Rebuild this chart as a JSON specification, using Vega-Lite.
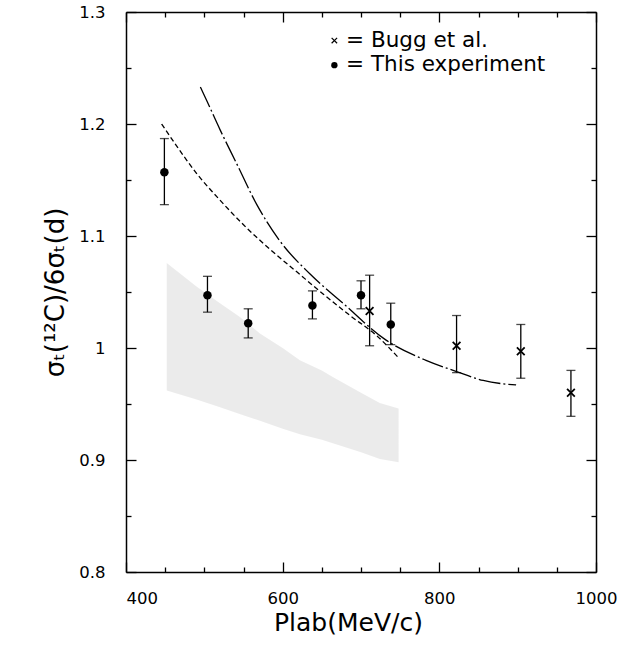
{
  "$schema": "https://vega.github.io/schema/vega-lite/v6.json",
  "width": 470,
  "height": 560,
  "autosize": {"type": "none"},
  "padding": {"left": 126, "top": 12, "right": 30, "bottom": 74},
  "background": "white",
  "datasets": {
    "band": [
      {"p": 452, "hi": 1.076, "lo": 0.962},
      {"p": 490, "hi": 1.055, "lo": 0.954},
      {"p": 520, "hi": 1.040, "lo": 0.947},
      {"p": 545, "hi": 1.028, "lo": 0.941},
      {"p": 571, "hi": 1.013, "lo": 0.935},
      {"p": 600, "hi": 1.000, "lo": 0.928},
      {"p": 622, "hi": 0.989, "lo": 0.923},
      {"p": 650, "hi": 0.980, "lo": 0.918},
      {"p": 664, "hi": 0.974, "lo": 0.915},
      {"p": 700, "hi": 0.960, "lo": 0.907},
      {"p": 724, "hi": 0.951, "lo": 0.901},
      {"p": 748, "hi": 0.946, "lo": 0.898}
    ],
    "dashed": [
      {"p": 445.5, "r": 1.200},
      {"p": 465, "r": 1.180},
      {"p": 490, "r": 1.156},
      {"p": 520, "r": 1.132},
      {"p": 550, "r": 1.110},
      {"p": 584, "r": 1.088},
      {"p": 618, "r": 1.068},
      {"p": 652, "r": 1.048},
      {"p": 686, "r": 1.029},
      {"p": 720, "r": 1.011},
      {"p": 747, "r": 0.992}
    ],
    "dashdot": [
      {"p": 495, "r": 1.233},
      {"p": 503, "r": 1.221},
      {"p": 520, "r": 1.195},
      {"p": 541, "r": 1.165},
      {"p": 567, "r": 1.128},
      {"p": 596, "r": 1.096},
      {"p": 635, "r": 1.066},
      {"p": 677, "r": 1.040},
      {"p": 732, "r": 1.007},
      {"p": 783, "r": 0.989},
      {"p": 822, "r": 0.979},
      {"p": 856, "r": 0.971},
      {"p": 898, "r": 0.967}
    ],
    "points": [
      {"src": "This experiment", "p": 449, "r": 1.157, "lo": 1.128, "hi": 1.187},
      {"src": "This experiment", "p": 504, "r": 1.047, "lo": 1.032, "hi": 1.064},
      {"src": "This experiment", "p": 556, "r": 1.022, "lo": 1.009, "hi": 1.035},
      {"src": "This experiment", "p": 638, "r": 1.038, "lo": 1.026, "hi": 1.051},
      {"src": "This experiment", "p": 700, "r": 1.047, "lo": 1.035, "hi": 1.060},
      {"src": "This experiment", "p": 738, "r": 1.021, "lo": 1.003, "hi": 1.040},
      {"src": "Bugg et al.", "p": 711, "r": 1.033, "lo": 1.002, "hi": 1.065},
      {"src": "Bugg et al.", "p": 822, "r": 1.002, "lo": 0.978, "hi": 1.029},
      {"src": "Bugg et al.", "p": 904, "r": 0.997, "lo": 0.973, "hi": 1.021},
      {"src": "Bugg et al.", "p": 968, "r": 0.960, "lo": 0.939, "hi": 0.980}
    ],
    "legend": [
      {"src": "Bugg et al.", "p": 666, "r": 1.2745, "tp": 681, "label": "= Bugg et al."},
      {"src": "This experiment", "p": 666, "r": 1.2525, "tp": 681, "label": "= This experiment"}
    ]
  },
  "resolve": {"axis": {"x": "independent", "y": "independent"}},
  "layer": [
    {
      "data": {"name": "band"},
      "mark": {"type": "area", "color": "#000", "opacity": 0.08},
      "encoding": {
        "x": {"field": "p", "type": "quantitative", "scale": {"domain": [400, 1000], "nice": false, "zero": false},
          "axis": {"orient": "bottom", "values": [400, 600, 800, 1000], "format": "d", "tickSize": -10, "labelPadding": 28,
            "labelAlign": {"condition": {"test": "datum.value <= 400", "value": "left"}, "value": "center"},
            "title": "Plab(MeV/c)", "titleFontSize": 25, "titlePadding": 4, "titleX": 222}},
        "y": {"field": "hi", "type": "quantitative", "scale": {"domain": [0.8, 1.3], "nice": false, "zero": false},
          "axis": {"orient": "left", "values": [0.8, 0.9, 1.0, 1.1, 1.2, 1.3], "tickSize": -10, "labelPadding": 31,
            "labelExpr": "datum.value == 1 ? '1' : format(datum.value, '.1f')",
            "title": "σₜ(¹²C)/6σₜ(d)", "titleFontSize": 26, "titlePadding": 10}},
        "y2": {"field": "lo"}
      }
    },
    {
      "data": {"name": "dashed"},
      "mark": {"type": "line", "color": "#000", "strokeWidth": 1.3, "strokeDash": [5, 3], "interpolate": "monotone"},
      "encoding": {
        "x": {"field": "p", "type": "quantitative", "scale": {"domain": [400, 1000], "nice": false, "zero": false},
          "axis": {"orient": "bottom", "values": [450, 500, 550, 650, 700, 750, 850, 900, 950], "tickSize": -5, "labels": false, "domain": false, "title": null}},
        "y": {"field": "r", "type": "quantitative", "scale": {"domain": [0.8, 1.3], "nice": false, "zero": false},
          "axis": {"orient": "left", "values": [0.85, 0.95, 1.05, 1.15, 1.25], "tickSize": -5, "labels": false, "domain": false, "title": null}}
      }
    },
    {
      "data": {"name": "dashdot"},
      "mark": {"type": "line", "color": "#000", "strokeWidth": 1.3, "strokeDash": [22, 3, 2, 3], "interpolate": "monotone"},
      "encoding": {
        "x": {"field": "p", "type": "quantitative", "scale": {"domain": [400, 1000], "nice": false, "zero": false},
          "axis": {"orient": "top", "values": [400, 600, 800, 1000], "tickSize": -10, "labels": false, "title": null}},
        "y": {"field": "r", "type": "quantitative", "scale": {"domain": [0.8, 1.3], "nice": false, "zero": false},
          "axis": {"orient": "right", "values": [0.8, 0.9, 1.0, 1.1, 1.2, 1.3], "tickSize": -10, "labels": false, "title": null}}
      }
    },
    {
      "data": {"name": "points"},
      "mark": {"type": "rule", "color": "#000", "strokeWidth": 1.3},
      "encoding": {
        "x": {"field": "p", "type": "quantitative", "scale": {"domain": [400, 1000], "nice": false, "zero": false},
          "axis": {"orient": "top", "values": [450, 500, 550, 650, 700, 750, 850, 900, 950], "tickSize": -5, "labels": false, "domain": false, "title": null}},
        "y": {"field": "lo", "type": "quantitative", "scale": {"domain": [0.8, 1.3], "nice": false, "zero": false},
          "axis": {"orient": "right", "values": [0.85, 0.95, 1.05, 1.15, 1.25], "tickSize": -5, "labels": false, "domain": false, "title": null}},
        "y2": {"field": "hi"}
      }
    },
    {
      "data": {"name": "points"},
      "mark": {"type": "tick", "orient": "horizontal", "color": "#000", "size": 9, "thickness": 1.3},
      "encoding": {
        "x": {"field": "p", "type": "quantitative", "scale": {"domain": [400, 1000], "nice": false, "zero": false}, "axis": null},
        "y": {"field": "lo", "type": "quantitative", "scale": {"domain": [0.8, 1.3], "nice": false, "zero": false}, "axis": null}
      }
    },
    {
      "data": {"name": "points"},
      "mark": {"type": "tick", "orient": "horizontal", "color": "#000", "size": 9, "thickness": 1.3},
      "encoding": {
        "x": {"field": "p", "type": "quantitative", "scale": {"domain": [400, 1000], "nice": false, "zero": false}, "axis": null},
        "y": {"field": "hi", "type": "quantitative", "scale": {"domain": [0.8, 1.3], "nice": false, "zero": false}, "axis": null}
      }
    },
    {
      "data": {"name": "points"},
      "transform": [{"filter": "datum.src == 'This experiment'"}],
      "mark": {"type": "point", "shape": "circle", "filled": true, "color": "#000", "size": 72, "opacity": 1},
      "encoding": {
        "x": {"field": "p", "type": "quantitative", "scale": {"domain": [400, 1000], "nice": false, "zero": false}, "axis": null},
        "y": {"field": "r", "type": "quantitative", "scale": {"domain": [0.8, 1.3], "nice": false, "zero": false}, "axis": null}
      }
    },
    {
      "data": {"name": "points"},
      "transform": [{"filter": "datum.src == 'Bugg et al.'"}],
      "mark": {"type": "point", "shape": "M-1,-1L1,1M-1,1L1,-1", "filled": false, "color": "#000", "strokeWidth": 1.8, "size": 60, "opacity": 1},
      "encoding": {
        "x": {"field": "p", "type": "quantitative", "scale": {"domain": [400, 1000], "nice": false, "zero": false}, "axis": null},
        "y": {"field": "r", "type": "quantitative", "scale": {"domain": [0.8, 1.3], "nice": false, "zero": false}, "axis": null}
      }
    },
    {
      "data": {"name": "legend"},
      "transform": [{"filter": "datum.src == 'This experiment'"}],
      "mark": {"type": "point", "shape": "circle", "filled": true, "color": "#000", "size": 40, "opacity": 1},
      "encoding": {
        "x": {"field": "p", "type": "quantitative", "scale": {"domain": [400, 1000], "nice": false, "zero": false}, "axis": null},
        "y": {"field": "r", "type": "quantitative", "scale": {"domain": [0.8, 1.3], "nice": false, "zero": false}, "axis": null}
      }
    },
    {
      "data": {"name": "legend"},
      "transform": [{"filter": "datum.src == 'Bugg et al.'"}],
      "mark": {"type": "point", "shape": "M-1,-1L1,1M-1,1L1,-1", "filled": false, "color": "#000", "strokeWidth": 1.2, "size": 30, "opacity": 1},
      "encoding": {
        "x": {"field": "p", "type": "quantitative", "scale": {"domain": [400, 1000], "nice": false, "zero": false}, "axis": null},
        "y": {"field": "r", "type": "quantitative", "scale": {"domain": [0.8, 1.3], "nice": false, "zero": false}, "axis": null}
      }
    },
    {
      "data": {"name": "legend"},
      "mark": {"type": "text", "align": "left", "baseline": "middle", "font": "DejaVu Sans", "fontSize": 21.5, "color": "#000"},
      "encoding": {
        "x": {"field": "tp", "type": "quantitative", "scale": {"domain": [400, 1000], "nice": false, "zero": false}, "axis": null},
        "y": {"field": "r", "type": "quantitative", "scale": {"domain": [0.8, 1.3], "nice": false, "zero": false}, "axis": null},
        "text": {"field": "label"}
      }
    }
  ],
  "config": {
    "view": {"stroke": null},
    "axis": {
      "grid": false,
      "domainColor": "#000",
      "domainWidth": 1.5,
      "tickColor": "#000",
      "tickWidth": 1.3,
      "labelFont": "DejaVu Sans",
      "labelFontSize": 16.5,
      "labelColor": "#000",
      "titleFont": "DejaVu Sans",
      "titleFontWeight": "normal",
      "titleColor": "#000"
    }
  }
}
